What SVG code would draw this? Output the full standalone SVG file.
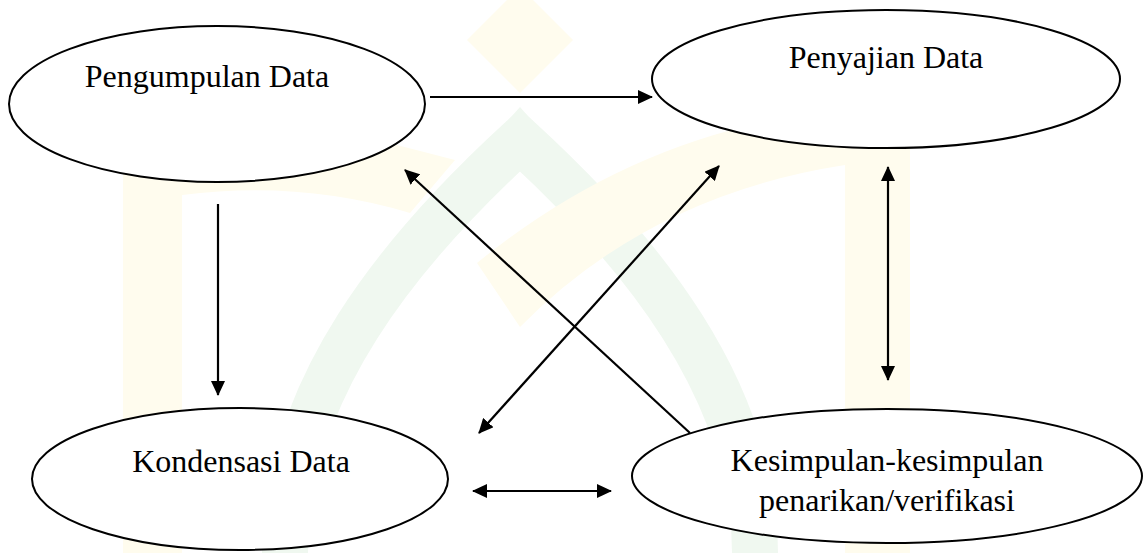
<svg xmlns="http://www.w3.org/2000/svg" width="1145" height="553" viewBox="0 0 1145 553">
  <style>
    .node ellipse { fill: #ffffff; stroke: #000000; stroke-width: 2; }
    .node text { font-family: "Liberation Serif", "Times New Roman", serif; font-size: 32px; fill: #000000; text-anchor: middle; }
    .conn line { stroke: #000000; stroke-width: 2.2; fill: none; }
    .wm-y { fill: #fffcee; }
    .wm-g { fill: #f0f8f0; }
    .wm-gs { fill: none; stroke: #f0f8f0; }
  </style>
  <defs>
    <marker id="ah" viewBox="0 0 15 14" refX="14" refY="7" markerWidth="15" markerHeight="14" markerUnits="userSpaceOnUse" orient="auto-start-reverse">
      <path d="M0,0 L15,7 L0,14 Z" fill="#000000"/>
    </marker>
  </defs>
  <rect x="0" y="0" width="1145" height="553" fill="#ffffff"/>

  <g id="watermark">
    <polygon class="wm-y" points="520,-13 573,40 520,93 467,40"/>
    <path class="wm-gs" stroke-width="46" d="M285,553 C285,390 400,250 520,140 C640,250 755,390 755,553"/>
    <path class="wm-g" d="M520,107 C540,130 560,150 565,160 L475,160 C480,150 500,130 520,107 Z"/>
    <path class="wm-y" d="M123,553 L123,150 Q200,105 300,120 L455,160 L410,213 Q300,180 182,195 L182,553 Z"/>
    <path class="wm-y" d="M910,553 L910,125 Q880,100 840,110 Q640,130 477,263 L520,327 Q650,195 845,165 L845,553 Z"/>
  </g>

  <g id="connectors" class="conn">
    <line x1="430" y1="97" x2="652" y2="97" marker-end="url(#ah)"/>
    <line x1="218" y1="204" x2="218" y2="395" marker-end="url(#ah)"/>
    <line x1="888" y1="167" x2="888" y2="380" marker-start="url(#ah)" marker-end="url(#ah)"/>
    <line x1="473" y1="491" x2="611" y2="491" marker-start="url(#ah)" marker-end="url(#ah)"/>
    <line x1="690" y1="433" x2="405" y2="170" marker-end="url(#ah)"/>
    <line x1="479" y1="433" x2="719" y2="166" marker-start="url(#ah)" marker-end="url(#ah)"/>
  </g>

  <g id="node-pengumpulan" class="node">
    <ellipse cx="217" cy="104" rx="208" ry="78"/>
    <text x="207" y="87">Pengumpulan Data</text>
  </g>
  <g id="node-penyajian" class="node">
    <ellipse cx="886" cy="79" rx="234" ry="69"/>
    <text x="886" y="68">Penyajian Data</text>
  </g>
  <g id="node-kondensasi" class="node">
    <ellipse cx="240" cy="479" rx="208" ry="71"/>
    <text x="241" y="472">Kondensasi Data</text>
  </g>
  <g id="node-kesimpulan" class="node">
    <ellipse cx="887" cy="476" rx="255" ry="67"/>
    <text x="887" y="471">Kesimpulan-kesimpulan</text>
    <text x="887" y="511">penarikan/verifikasi</text>
  </g>
</svg>
